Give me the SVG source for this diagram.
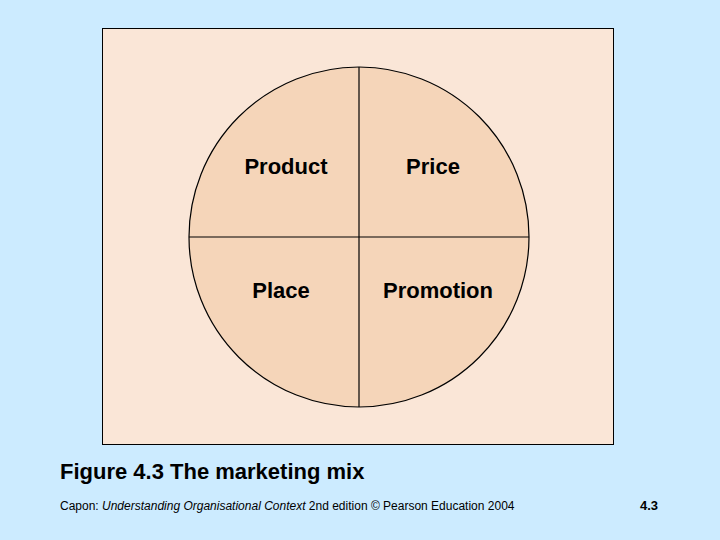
<svg xmlns="http://www.w3.org/2000/svg" width="720" height="540" viewBox="0 0 720 540">
<style>
.q{font-family:"Liberation Sans",Arial,sans-serif;font-weight:bold;font-size:22px;fill:#000;text-anchor:middle}
</style>
<rect width="720" height="540" fill="#CCEBFF"/>
<rect x="102.5" y="28.5" width="511" height="416" fill="#FAE6D7" stroke="#000" stroke-width="1"/>
<g id="circle"><circle cx="359" cy="237" r="170" fill="#F5D5B9" stroke="#000" stroke-width="1.2"/></g>
<g id="connectors" stroke="#000" stroke-width="1.2">
<line x1="359" y1="67" x2="359" y2="407"/>
<line x1="189" y1="237" x2="529" y2="237"/>
</g>
<g id="product"><text class="q" x="286" y="174">Product</text></g>
<g id="price"><text class="q" x="433" y="174">Price</text></g>
<g id="place"><text class="q" x="281" y="298">Place</text></g>
<g id="promotion"><text class="q" x="438" y="298">Promotion</text></g>
<text x="60" y="479" font-family="Liberation Sans,Arial,sans-serif" font-weight="bold" font-size="22">Figure 4.3  The marketing mix</text>
<text x="60" y="510" font-family="Liberation Sans,Arial,sans-serif" font-size="12">Capon: <tspan font-style="italic">Understanding Organisational Context</tspan> 2nd edition © Pearson Education 2004</text>
<text x="658" y="510" text-anchor="end" font-family="Liberation Sans,Arial,sans-serif" font-weight="bold" font-size="13">4.3</text>
</svg>
